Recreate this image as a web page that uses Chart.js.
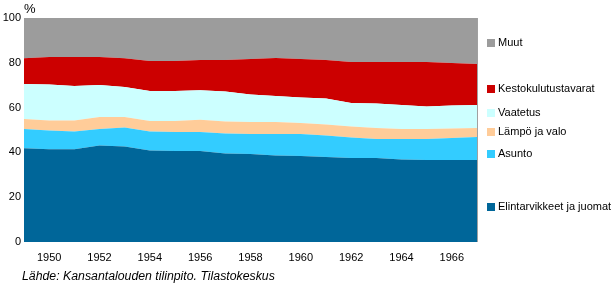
<!DOCTYPE html>
<html>
<head>
<meta charset="utf-8">
<script src="https://cdn.jsdelivr.net/npm/chart.js@4.4.0/dist/chart.umd.min.js"></script>
<style>
  html, body { margin: 0; padding: 0; background: #fff; }
</style>
</head>
<body>
<canvas id="kulutusChart" width="612" height="288"></canvas>
<script>
// Yksityisen kulutuksen rakenne 1949-1967, osuus %
const years = ['1949', '1950', '1951', '1952', '1953', '1954', '1955', '1956', '1957', '1958',
               '1959', '1960', '1961', '1962', '1963', '1964', '1965', '1966', '1967'];

const elintarvikkeet = [41.8, 41.4, 41.4, 43.1, 42.6, 40.8, 40.6, 40.6, 39.5, 39.3,
                        38.6, 38.4, 37.9, 37.5, 37.5, 36.8, 36.6, 36.6, 36.6];
const asunto = [8.6, 8.4, 7.9, 7.3, 8.5, 8.5, 8.5, 8.5, 8.9, 8.9,
                9.6, 9.8, 9.6, 9.2, 8.5, 9.2, 9.4, 9.8, 10.3];
const lampo = [4.5, 4.4, 4.9, 5.4, 4.7, 4.7, 4.9, 5.5, 5.4, 5.4,
               5.4, 4.9, 5.0, 4.9, 4.9, 4.4, 4.4, 4.3, 4.0];
const vaatetus = [15.6, 16.1, 15.4, 14.3, 13.4, 13.4, 13.4, 13.1, 13.4, 12.2,
                  11.6, 11.4, 11.6, 10.5, 10.9, 10.8, 10.1, 10.2, 10.3];
const kestokulutus = [11.5, 12.3, 13.0, 12.5, 12.8, 13.4, 13.4, 13.6, 14.1, 15.9,
                      16.9, 17.2, 17.2, 18.3, 18.6, 19.2, 19.9, 19.0, 18.3];
const muut = [18.0, 17.4, 17.4, 17.4, 18.0, 19.2, 19.2, 18.7, 18.7, 18.3,
              17.9, 18.3, 18.7, 19.6, 19.6, 19.6, 19.6, 20.1, 20.5];

const seriesNames = ['Elintarvikkeet ja juomat', 'Asunto', 'Lämpö ja valo',
                     'Vaatetus', 'Kestokulutustavarat', 'Muut'];
const seriesValues = [elintarvikkeet, asunto, lampo, vaatetus, kestokulutus, muut];
const seriesColors = ['#006699', '#33ccff', '#ffcc99', '#ccffff', '#cc0000', '#9c9c9c'];

const FONT = '"Liberation Sans", Arial, sans-serif';

// Legend on the right, items placed next to their bands
const sideLegend = {
    id: 'sideLegend',
    afterDraw(chart) {
        const ctx = chart.ctx;
        const rows = [207, 154, 132, 113, 89, 43];
        ctx.save();
        ctx.font = '11px ' + FONT;
        ctx.textBaseline = 'middle';
        ctx.textAlign = 'left';
        chart.data.datasets.forEach((ds, i) => {
            ctx.fillStyle = ds.backgroundColor;
            ctx.fillRect(487, rows[i] - 4, 8, 8);
            ctx.fillStyle = '#000';
            ctx.fillText(ds.label, 498, rows[i]);
        });

        // right border of the plot
        const area = chart.chartArea;
        ctx.fillStyle = '#a0a0a0';
        ctx.fillRect(Math.round(area.right), area.top, 1, area.bottom - area.top);

        // unit and source
        ctx.fillStyle = '#000';
        ctx.textBaseline = 'alphabetic';
        ctx.font = '13px ' + FONT;
        ctx.fillText('%', 24, 13);
        ctx.font = 'italic 12.3px ' + FONT;
        ctx.fillText('Lähde: Kansantalouden tilinpito. Tilastokeskus', 22, 280);
        ctx.restore();
    }
};

const config = {
    type: 'line',
    data: {
        labels: years,
        datasets: seriesValues.map((vals, i) => ({
            label: seriesNames[i],
            data: vals,
            backgroundColor: seriesColors[i],
            borderColor: seriesColors[i],
            borderWidth: 0,
            pointRadius: 0,
            tension: 0,
            fill: i === 0 ? 'origin' : '-1'
        }))
    },
    options: {
        responsive: false,
        animation: false,
        layout: { padding: { left: 0, top: 18, right: 135, bottom: 0 } },
        plugins: {
            legend: { display: false },
            tooltip: { enabled: false }
        },
        scales: {
            x: {
                offset: false,
                grid: { display: false, drawTicks: false },
                border: { display: false },
                ticks: {
                    autoSkip: false,
                    maxRotation: 0,
                    padding: 9,
                    color: '#000',
                    font: { family: FONT, size: 11 },
                    callback: function(value) {
                        const y = Number(this.getLabelForValue(value));
                        return y % 2 === 0 ? String(y) : '';
                    }
                },
                afterFit: (scale) => { scale.height = 46; }
            },
            y: {
                stacked: true,
                min: 0,
                max: 100,
                grid: { display: false, drawTicks: false },
                border: { display: false },
                ticks: {
                    stepSize: 20,
                    padding: 3,
                    color: '#000',
                    font: { family: FONT, size: 11 }
                },
                afterFit: (scale) => { scale.width = 24; }
            }
        }
    },
    plugins: [sideLegend]
};

new Chart(document.getElementById('kulutusChart').getContext('2d'), config);
</script>
</body>
</html>
